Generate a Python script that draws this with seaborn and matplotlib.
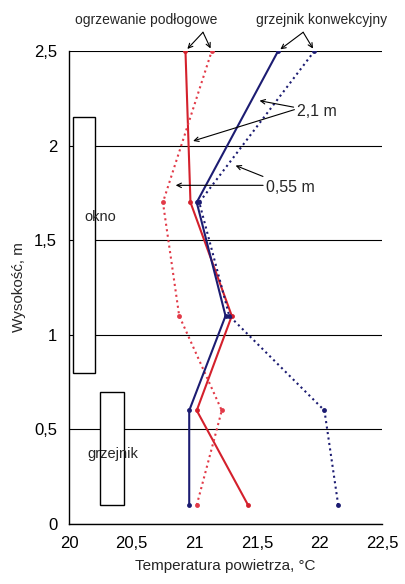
import numpy as np
import pandas as pd
import seaborn as sns
import matplotlib.pyplot as plt
from matplotlib.patches import Rectangle
from matplotlib.ticker import FuncFormatter

# heights of measurement points, m
heights = [0.1, 0.6, 1.1, 1.7, 2.5]

# air temperature, degC
floor_21 = [21.43, 21.02, 21.30, 20.97, 20.93]    # ogrzewanie podlogowe, 2,1 m
floor_055 = [21.02, 21.22, 20.88, 20.75, 21.14]   # ogrzewanie podlogowe, 0,55 m
conv_21 = [20.96, 20.96, 21.25, 21.02, 21.67]     # grzejnik konwekcyjny, 2,1 m
conv_055 = [22.15, 22.04, 21.28, 21.04, 21.96]    # grzejnik konwekcyjny, 0,55 m

sns.set_style('white')
plt.rcParams['font.family'] = ['Liberation Sans', 'DejaVu Sans']
plt.rcParams['font.size'] = 10

fig = plt.figure(figsize=(4.06, 5.84), dpi=100)
ax = fig.add_axes([0.170, 0.1027, 0.771, 0.81])

red = '#d4202c'
red2 = '#e23a48'
navy = '#1c1c72'

series = [
    (floor_21, red, '-'),
    (floor_055, red2, ':'),
    (conv_21, navy, '-'),
    (conv_055, navy, ':'),
]
for temps, col, ls in series:
    df = pd.DataFrame({'t': temps, 'h': heights})
    sns.lineplot(data=df, x='t', y='h', sort=False, estimator=None,
                 color=col, linestyle=ls, lw=1.5, marker='o', markersize=3.5,
                 markeredgewidth=0, ax=ax, zorder=3)

# window and radiator outlines
ax.add_patch(Rectangle((20.03, 0.80), 0.18, 1.35, facecolor='white',
                       edgecolor='black', lw=1, zorder=2))
ax.add_patch(Rectangle((20.25, 0.10), 0.19, 0.60, facecolor='white',
                       edgecolor='black', lw=1, zorder=2))
ax.text(20.12, 1.62, 'okno', va='center', ha='left', zorder=4, fontsize=10.5)
ax.text(20.15, 0.37, 'grzejnik', va='center', ha='left', zorder=4, fontsize=10.5)

ax.set_xlim(20, 22.5)
ax.set_ylim(0, 2.5)
ax.set_xticks(np.arange(20, 22.51, 0.5))
ax.set_yticks(np.arange(0, 2.51, 0.5))
fmt = FuncFormatter(lambda v, p: ('%g' % v).replace('.', ','))
ax.xaxis.set_major_formatter(fmt)
ax.yaxis.set_major_formatter(fmt)
ax.grid(axis='y', color='black', lw=0.8)
ax.set_axisbelow(True)
for s in ['top', 'right']:
    ax.spines[s].set_visible(False)
for s in ['left', 'bottom']:
    ax.spines[s].set_color('black')
    ax.spines[s].set_linewidth(1)
ax.tick_params(axis='both', direction='out', length=5, width=1,
               color='black', labelsize=12, labelcolor='black')
ax.set_xlabel('Temperatura powietrza, °C', fontsize=11, labelpad=6)
ax.set_ylabel('Wysokość, m', fontsize=11, labelpad=6)

arrow = dict(arrowstyle='->', color='black', lw=0.8,
             shrinkA=0, shrinkB=2, mutation_scale=8)

# top labels
ax.text(20.62, 2.664, 'ogrzewanie podłogowe', ha='center', va='center',
        fontsize=10)
ax.text(22.02, 2.664, 'grzejnik konwekcyjny', ha='center', va='center',
        fontsize=10)
for x0, x1 in [(21.07, 20.93), (21.07, 21.14), (21.87, 21.67), (21.87, 21.96)]:
    ax.annotate('', xy=(x1, 2.5), xytext=(x0, 2.599),
                arrowprops=arrow, annotation_clip=False)

# sensor heights
ax.annotate('2,1 m', xy=(21.5, 2.24), xytext=(21.82, 2.18),
            va='center', ha='left', arrowprops=arrow, fontsize=11.5)
ax.annotate('', xy=(20.97, 2.02), xytext=(21.8, 2.19), arrowprops=arrow)
ax.annotate('0,55 m', xy=(21.31, 1.90), xytext=(21.57, 1.78),
            va='center', ha='left', arrowprops=arrow, fontsize=11.5)
ax.annotate('', xy=(20.83, 1.79), xytext=(21.55, 1.79), arrowprops=arrow)

fig.savefig('out.png', dpi=100)
